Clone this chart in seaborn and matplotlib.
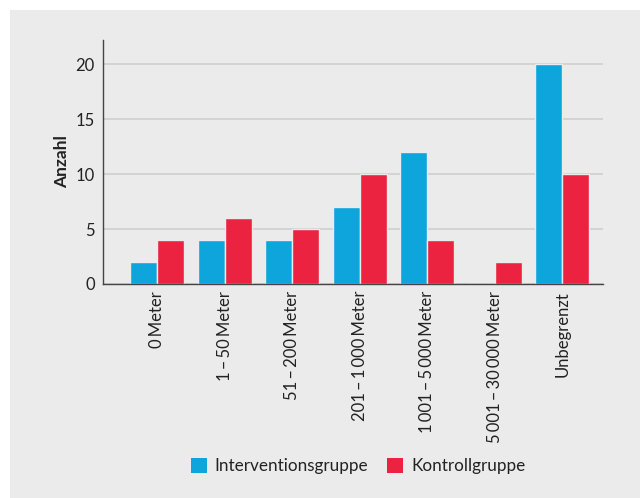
import matplotlib
matplotlib.use("Agg")
import matplotlib.pyplot as plt
from matplotlib.patches import Rectangle
import seaborn as sns
import pandas as pd

TS = "\u2009"  # thin space for digit grouping
categories = [
    f"0{TS}Meter",
    f"1{TS}–{TS}50{TS}Meter",
    f"51{TS}–{TS}200{TS}Meter",
    f"201{TS}–{TS}1{TS}000{TS}Meter",
    f"1{TS}001{TS}–{TS}5{TS}000{TS}Meter",
    f"5{TS}001{TS}–{TS}30{TS}000{TS}Meter",
    "Unbegrenzt",
]
intervention = [2, 4, 4, 7, 12, 0, 20]
kontrolle = [4, 6, 5, 10, 4, 2, 10]
groups = ["Interventionsgruppe", "Kontrollgruppe"]
yticks = [0, 5, 10, 15, 20]

df = pd.DataFrame({
    "Kategorie": categories * 2,
    "Gruppe": [groups[0]] * len(categories) + [groups[1]] * len(categories),
    "Anzahl": intervention + kontrolle,
})

bg = "#ebebeb"
colors = {groups[0]: "#0ea5dc", groups[1]: "#ec2340"}

sns.set_theme(style="white")
plt.rcParams["font.family"] = ["Lato", "DejaVu Sans"]

fig = plt.figure(figsize=(6.4, 4.98), dpi=100, facecolor="white")
# grey panel behind everything
fig.patches.append(Rectangle((10 / 640, 0), 1, 1 - 10 / 498, transform=fig.transFigure,
                             facecolor=bg, edgecolor="none", zorder=-10))
ax = fig.add_axes([103 / 640, 1 - 284 / 498, 500 / 640, 244 / 498])
ax.set_facecolor(bg)

sns.barplot(data=df, x="Kategorie", y="Anzahl", hue="Gruppe", order=categories,
            hue_order=groups, palette=colors, width=0.8, ax=ax,
            edgecolor=bg, linewidth=1.0, saturation=1, legend=True)

ax.set_xlim(-0.8, 6.6)
ax.set_ylim(0, 22.2)
ax.set_yticks(yticks)
ax.set_yticklabels([str(v) for v in yticks], fontsize=12, color="#222222")
ax.yaxis.grid(True, color="#cfcfcf", linewidth=1.2)
ax.set_axisbelow(True)
ax.tick_params(axis="y", length=0, pad=6)
ax.tick_params(axis="x", length=0, pad=5)
for lab in ax.get_xticklabels():
    lab.set_rotation(90)
    lab.set_fontsize(12)
    lab.set_color("#222222")
    lab.set_va("top")
    lab.set_ha("center")

ax.set_xlabel("")
ax.set_ylabel("Anzahl", fontsize=12.5, fontweight="bold", color="#222222", labelpad=4)

for side in ["top", "right"]:
    ax.spines[side].set_visible(False)
for side in ["left", "bottom"]:
    ax.spines[side].set_color("#444444")
    ax.spines[side].set_linewidth(1.0)

ax.get_legend().remove()
handles = [Rectangle((0, 0), 1, 1, facecolor=colors[g], edgecolor="none") for g in groups]
fig.legend(handles, groups, loc="center", bbox_to_anchor=(358 / 640, 1 - 466 / 498),
           ncol=2, frameon=False, fontsize=12.3, handlelength=0.95, handleheight=0.95,
           handletextpad=0.45, columnspacing=1.1, labelcolor="#222222")

fig.savefig("out.png", dpi=100, facecolor="white")
